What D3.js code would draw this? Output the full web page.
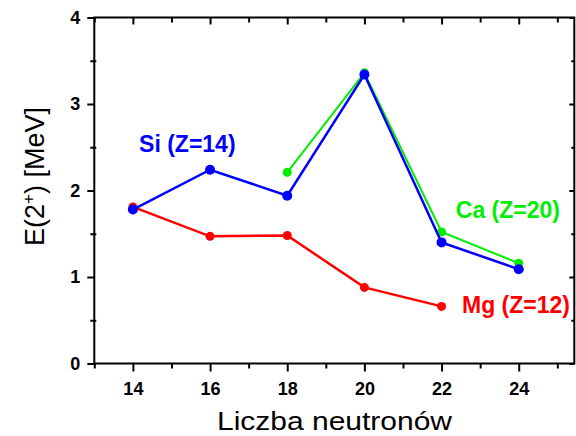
<!DOCTYPE html>
<html>
<head>
<meta charset="utf-8">
<script src="https://cdn.jsdelivr.net/npm/d3@7"></script>
<style>
  html, body { margin: 0; padding: 0; background: #fff; }
  text { font-family: "Liberation Sans", Arial, sans-serif; }
</style>
</head>
<body>
<svg id="chart" width="576" height="436"></svg>
<script>
// ---- data ----
const siN = [14, 16, 18, 20, 22, 24];
const siE = [1.78, 2.24, 1.94, 3.34, 1.40, 1.09];
const mgN = [14, 16, 18, 20, 22];
const mgE = [1.81, 1.47, 1.48, 0.88, 0.66];
const caN = [18, 20, 22, 24];
const caE = [2.21, 3.36, 1.52, 1.16];
const xTicks = [14, 16, 18, 20, 22, 24];
const yTicks = [0, 1, 2, 3, 4];
const labels = [
  { text: "Si (Z=14)", n: 14.16, e: 2.45, series: "si" },
  { text: "Ca (Z=20)", n: 22.37, e: 1.68, series: "ca" },
  { text: "Mg (Z=12)", n: 22.53, e: 0.58, series: "mg" }
];
const xTitle = "Liczba neutronów";

// ---- styles ----
const colors = { si: "#0000ff", mg: "#ff0000", ca: "#00ee00" };

const svg = d3.select("#chart");
const x = d3.scaleLinear().domain([13, 25.44]).range([94.3, 574.3]);
const y = d3.scaleLinear().domain([0, 4]).range([363.5, 17.5]);

const minorX = d3.range(13, 26, 1).filter(v => !xTicks.includes(v));
const minorY = d3.range(0.5, 4, 1);

// bottom axis
const gBottom = svg.append("g").attr("transform", `translate(0,${y(0)})`);
gBottom.call(d3.axisBottom(x).tickValues(xTicks).tickSize(8).tickPadding(11).tickFormat(d3.format("d")));
gBottom.append("g").call(d3.axisBottom(x).tickValues(minorX).tickSize(5).tickFormat(""));
// top axis
const gTop = svg.append("g").attr("transform", `translate(0,${y(4)})`);
gTop.call(d3.axisBottom(x).tickValues(xTicks).tickSize(7).tickFormat(""));
gTop.append("g").call(d3.axisBottom(x).tickValues(minorX).tickSize(5).tickFormat(""));
// left axis
const gLeft = svg.append("g").attr("transform", `translate(${x(13)},0)`);
gLeft.call(d3.axisLeft(y).tickValues(yTicks).tickSize(7).tickPadding(7).tickFormat(d3.format("d")));
gLeft.append("g").call(d3.axisLeft(y).tickValues(minorY).tickSize(4).tickFormat(""));
gLeft.append("g").call(d3.axisRight(y).tickValues(minorY).tickSize(2).tickFormat(""));
// right axis
const gRight = svg.append("g").attr("transform", `translate(${x(25.44)},0)`);
gRight.call(d3.axisLeft(y).tickValues(yTicks).tickSize(5).tickFormat(""));
gRight.append("g").call(d3.axisLeft(y).tickValues(minorY).tickSize(3).tickFormat(""));

svg.selectAll(".tick line").attr("stroke", "#000").attr("stroke-width", 2);
svg.selectAll(".tick text")
  .attr("font-family", "Liberation Sans, Arial, sans-serif")
  .attr("font-weight", "bold").attr("font-size", 18).attr("fill", "#000");
svg.selectAll(".domain").remove();
svg.append("rect")
  .attr("x", x(13)).attr("y", y(4))
  .attr("width", x(25.44) - x(13)).attr("height", y(0) - y(4))
  .attr("fill", "none").attr("stroke", "#000").attr("stroke-width", 2);

// series
function drawSeries(ns, es, key, lw, r) {
  const pts = ns.map((n, i) => [n, es[i]]);
  const line = d3.line().x(d => x(d[0])).y(d => y(d[1]));
  svg.append("path").datum(pts)
    .attr("d", line).attr("fill", "none")
    .attr("stroke", colors[key]).attr("stroke-width", lw);
  svg.append("g").selectAll("circle").data(pts).join("circle")
    .attr("cx", d => x(d[0])).attr("cy", d => y(d[1])).attr("r", r)
    .attr("fill", colors[key]);
}
drawSeries(caN, caE, "ca", 2, 4.5);
drawSeries(mgN, mgE, "mg", 2.5, 4.5);
drawSeries(siN, siE, "si", 2.5, 5);

// labels
svg.append("g").selectAll("text").data(labels).join("text")
  .attr("x", d => x(d.n)).attr("y", d => y(d.e))
  .attr("font-weight", "bold").attr("font-size", 23)
  .attr("fill", d => colors[d.series])
  .text(d => d.text);

// axis titles
svg.append("text")
  .attr("x", 334.5).attr("y", 430)
  .attr("text-anchor", "middle").attr("font-size", 25).attr("fill", "#000")
  .attr("textLength", 235).attr("lengthAdjust", "spacingAndGlyphs")
  .text(xTitle);

const yt = svg.append("text")
  .attr("transform", `translate(44,${(y(0) + y(4)) / 2 - 14}) rotate(-90)`)
  .attr("text-anchor", "middle").attr("font-size", 27).attr("fill", "#000");
yt.append("tspan").text("E(2");
yt.append("tspan").attr("dy", -10).attr("font-size", 17).text("+");
yt.append("tspan").attr("dy", 10).text(") [MeV]");
</script>
</body>
</html>
